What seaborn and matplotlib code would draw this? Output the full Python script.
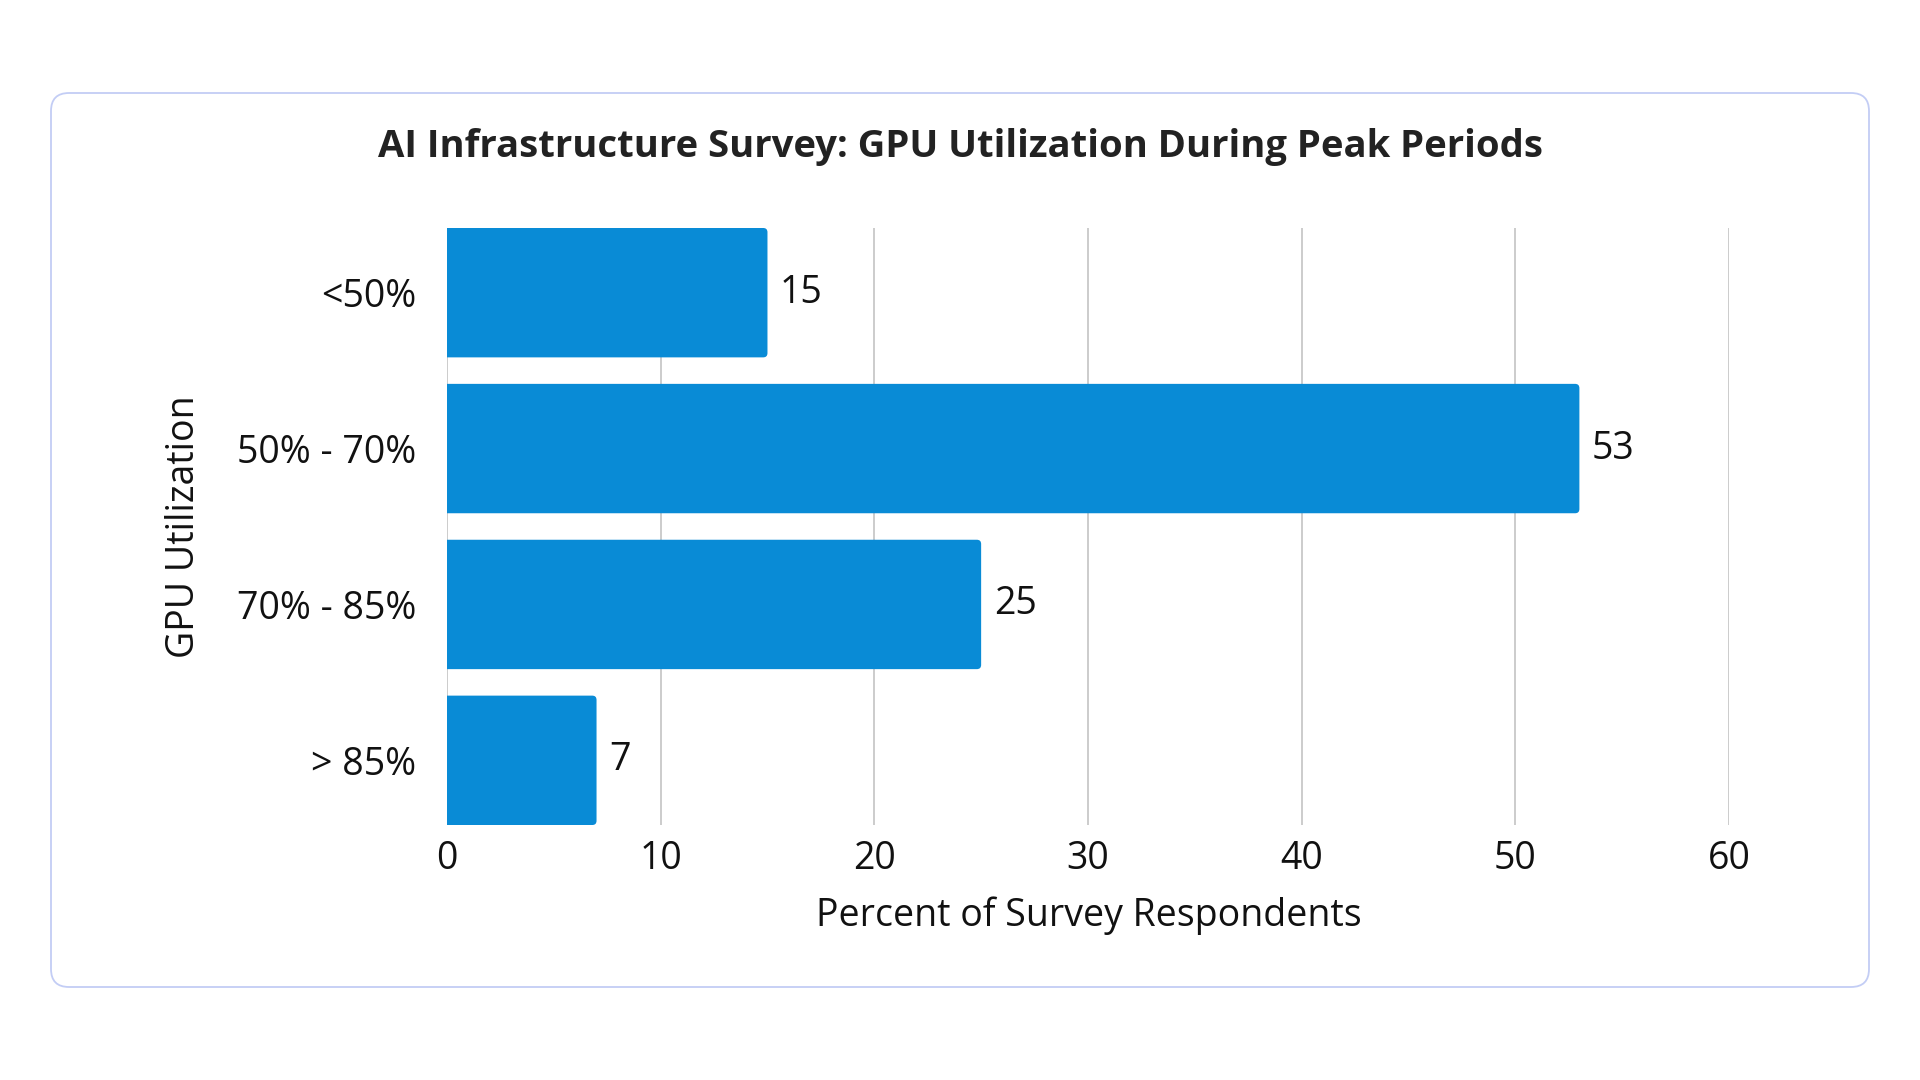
import matplotlib
matplotlib.use("Agg")
import matplotlib.pyplot as plt
from matplotlib.patches import FancyBboxPatch
from matplotlib.transforms import IdentityTransform
import seaborn as sns

categories = ["<50%", "50% - 70%", "70% - 85%", "> 85%"]
percents = [15, 53, 25, 7]
x_ticks = [0, 10, 20, 30, 40, 50, 60]

TITLE = "AI Infrastructure Survey: GPU Utilization During Peak Periods"
BAR_COLOR = "#098bd6"

sns.set_theme(style="white")
plt.rcParams["font.family"] = ["Open Sans", "DejaVu Sans"]

fig = plt.figure(figsize=(19.2, 10.8), dpi=100)
fig.patch.set_facecolor("white")

# card behind the chart
card = FancyBboxPatch((51, 1080 - 987), 1818, 894,
                      boxstyle="round,pad=0,rounding_size=18",
                      transform=IdentityTransform(),
                      facecolor="white", edgecolor="#c3cdf5", linewidth=1.3,
                      zorder=-5)
fig.add_artist(card)

ax = fig.add_axes([0.2328, 0.2361, 0.6677, 0.5528])
ax.set_facecolor("none")

sns.barplot(x=percents, y=categories, orient="h", color=BAR_COLOR,
            saturation=1, width=0.83, ax=ax, edgecolor="none")

ax.set_xlim(0, 60)
ax.set_ylim(3.415, -0.415)

# swap plain bars for ones with slightly rounded right ends
# (start left of zero so the left corners get clipped by the axes)
aspect = (ax.bbox.width / 60) / (ax.bbox.height / 3.83)
for bar in ax.patches:
    x0, y0 = bar.get_x(), bar.get_y()
    w, h = bar.get_width(), bar.get_height()
    rb = FancyBboxPatch((x0 - 1, y0), w + 1, h,
                        boxstyle="round,pad=0,rounding_size=0.2",
                        mutation_aspect=aspect,
                        facecolor=BAR_COLOR, edgecolor="none", zorder=2)
    ax.add_patch(rb)
    bar.set_visible(False)

ax.set_xticks(x_ticks)
ax.xaxis.grid(True, color="#cccccc", linewidth=1.4)
ax.set_axisbelow(True)
for s in ax.spines.values():
    s.set_visible(False)
ax.tick_params(axis="both", length=0, labelsize=27, colors="#111111")
ax.tick_params(axis="y", pad=22)
ax.tick_params(axis="x", pad=11)

ax.bar_label(ax.containers[0], labels=[str(v) for v in percents],
             padding=9, fontsize=27, color="#111111")

ax.set_xlabel("")
ax.set_ylabel("")
fig.text(0.5, 0.864, TITLE, ha="center", va="center", fontsize=27.5,
         fontweight="bold", color="#222222")
fig.text(0.5672, 0.152, "Percent of Survey Respondents", ha="center",
         va="center", fontsize=27, color="#111111")
fig.text(0.0958, 0.512, "GPU Utilization", ha="center", va="center",
         rotation=90, fontsize=27, color="#111111")

fig.savefig("out.png", dpi=100)
